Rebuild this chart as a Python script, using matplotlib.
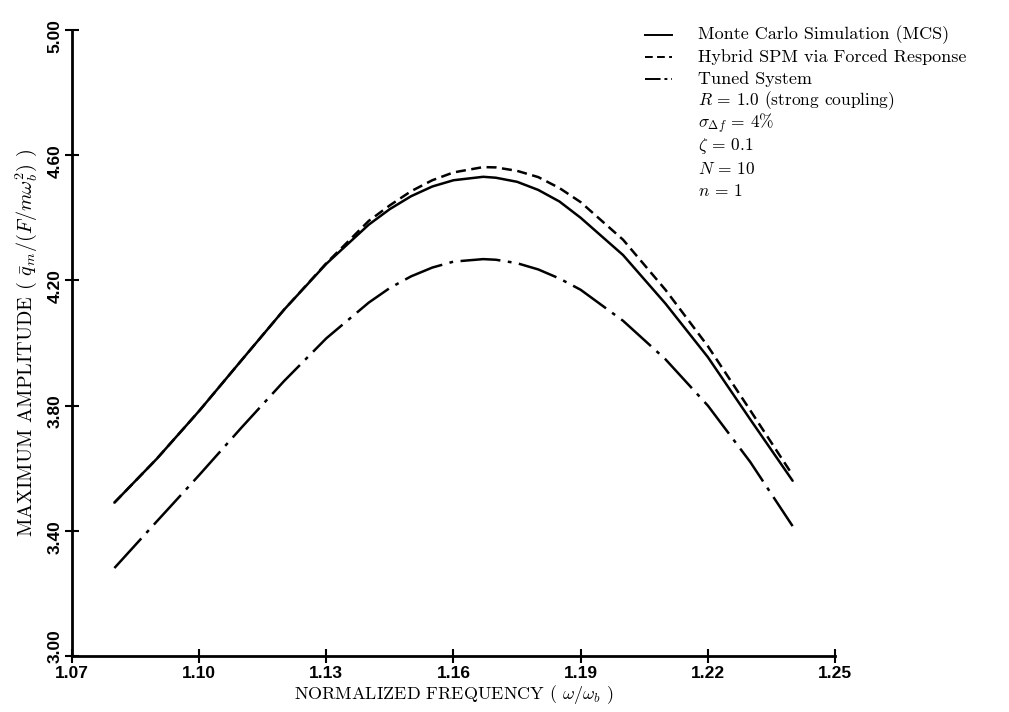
import matplotlib
matplotlib.use("Agg")
import matplotlib.pyplot as plt
import matplotlib.transforms as mtrans
from matplotlib.lines import Line2D

plt.rcParams['mathtext.fontset'] = 'cm'
plt.rcParams['axes.unicode_minus'] = False

# normalized frequency and amplitudes
freq = [1.08, 1.09, 1.10, 1.11, 1.12, 1.13, 1.14, 1.145, 1.15, 1.155, 1.16, 1.167,
        1.17, 1.175, 1.18, 1.185, 1.19, 1.20, 1.21, 1.22, 1.23, 1.24]
mcs = [3.49, 3.63, 3.783, 3.945, 4.106, 4.253, 4.378, 4.428, 4.469, 4.50, 4.52, 4.531,
       4.528, 4.515, 4.489, 4.452, 4.40, 4.281, 4.126, 3.955, 3.756, 3.56]
hybrid = [3.49, 3.63, 3.783, 3.945, 4.106, 4.255, 4.39, 4.44, 4.485, 4.52, 4.545, 4.562,
          4.561, 4.55, 4.53, 4.495, 4.45, 4.33, 4.17, 3.99, 3.785, 3.578]
tuned = [3.281, 3.43, 3.578, 3.73, 3.878, 4.015, 4.129, 4.176, 4.213, 4.241, 4.26, 4.268,
         4.266, 4.255, 4.235, 4.206, 4.17, 4.071, 3.948, 3.80, 3.62, 3.415]

xticks = [1.07, 1.10, 1.13, 1.16, 1.19, 1.22, 1.25]
yticks = [3.00, 3.40, 3.80, 4.20, 4.60, 5.00]

legend_names = ["Monte Carlo Simulation (MCS)",
                "Hybrid SPM via Forced Response",
                "Tuned System"]
notes = [r"$R$ = 1.0 (strong coupling)",
         r"$\sigma_{\Delta f}$ = 4%",
         r"$\zeta$ = 0.1",
         r"$N$ = 10",
         r"$n$ = 1"]

serif = ['cmr10', 'DejaVu Serif']
tickfont = dict(family=['Liberation Sans', 'DejaVu Sans'], weight='bold', size=12.5)

fig = plt.figure(figsize=(10.09, 7.12), dpi=100)
ax = fig.add_axes([72 / 1009, 1 - 656 / 712, 763 / 1009, 626 / 712])

lw = 1.8
ax.plot(freq, mcs, color='black', lw=lw, solid_capstyle='round', solid_joinstyle='round')
ax.plot(freq, hybrid, color='black', lw=lw, dashes=(4, 2.2))
ax.plot(freq, tuned, color='black', lw=lw, dashes=(16, 3, 1.5, 3))

ax.set_xlim(1.07, 1.25)
ax.set_ylim(3.0, 5.0)
ax.spines['top'].set_visible(False)
ax.spines['right'].set_visible(False)
for s in ['left', 'bottom']:
    ax.spines[s].set_linewidth(2)
ax.tick_params(direction='inout', length=10, width=1.5, pad=2)

ax.set_xticks(xticks)
ax.set_xticklabels(['%.2f' % v for v in xticks], **tickfont)
ax.set_yticks(yticks)
ax.set_yticklabels(['%.2f' % v for v in yticks], rotation=90, va='center', **tickfont)
for i, lab in enumerate(ax.get_yticklabels()):
    dy = 10 if i == 0 else -6   # lift the bottom one clear of 1.07
    shift = mtrans.ScaledTranslation(0, dy / 100, fig.dpi_scale_trans)
    lab.set_transform(lab.get_transform() + shift)

ax.set_xlabel(r"NORMALIZED FREQUENCY ( $\omega/\omega_b$ )", family=serif, size=13, labelpad=2)
ax.set_ylabel(r"MAXIMUM AMPLITUDE ( $\bar{q}_m/(F/m\omega_b^2)$ )", family=serif, size=14.5, labelpad=6)

# legend drawn by hand like the original
row_y = [35, 57, 79]
styles = [dict(), dict(dashes=(4, 2.2)), dict(dashes=(8, 2, 1.5, 2))]
for y, name, st in zip(row_y, legend_names, styles):
    yf = 1 - y / 712
    fig.add_artist(Line2D([645 / 1009, 672 / 1009], [yf, yf], color='black', lw=1.4,
                          transform=fig.transFigure, **st))
    fig.text(698 / 1009, yf, name, family=serif, size=13, va='center', ha='left')
for i, t in enumerate(notes):
    yf = 1 - (101 + 22.5 * i) / 712
    fig.text(698 / 1009, yf, t, family=serif, size=12.5, va='center', ha='left')

fig.savefig("out.png", dpi=100)
